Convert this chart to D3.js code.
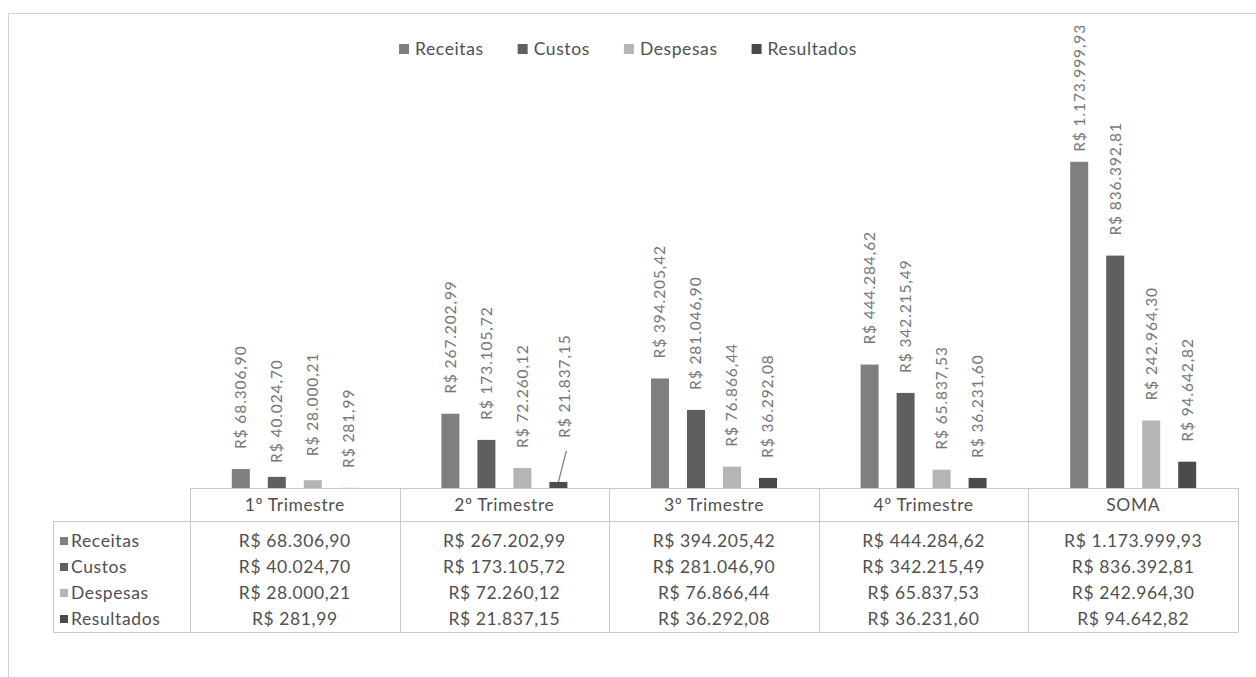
<!DOCTYPE html>
<html>
<head>
<meta charset="utf-8">
<script src="https://cdn.jsdelivr.net/npm/d3@7"></script>
<style>
  body { margin: 0; background: #fff; }
  svg { display: block; }
  text { font-family: Lato, "Open Sans", sans-serif; }
</style>
</head>
<body>
<svg width="1256" height="677"></svg>
<script>
const categories = ["1º Trimestre", "2º Trimestre", "3º Trimestre", "4º Trimestre", "SOMA"];
const seriesNames = ["Receitas", "Custos", "Despesas", "Resultados"];
const receitas = [68306.90, 267202.99, 394205.42, 444284.62, 1173999.93];
const custos = [40024.70, 173105.72, 281046.90, 342215.49, 836392.81];
const despesas = [28000.21, 72260.12, 76866.44, 65837.53, 242964.30];
const resultados = [281.99, 21837.15, 36292.08, 36231.60, 94642.82];
const values = [receitas, custos, despesas, resultados];

const colors = ["#7f7f7f", "#5f5f5f", "#b5b5b5", "#4b4b4b"];
const gridColor = "#c9c9c9";
const textColor = "#505050";
const labelColor = "#777777";

// labels moved by hand in the original (extra lift in px; dx > 0 means a leader line)
const labelLift = {
  "1º Trimestre|Custos": -6,
  "1º Trimestre|Despesas": 4,
  "2º Trimestre|Resultados": 24,
  "SOMA|Receitas": -10
};
const leaderLines = { "2º Trimestre|Resultados": 6 };

const br = d3.formatLocale({ decimal: ",", thousands: ".", grouping: [3], currency: ["R$ ", ""] });
const money = br.format("$,.2f");

const svg = d3.select("svg");

svg.append("rect")
  .attr("x", 8.5).attr("y", 13.5)
  .attr("width", 1300).attr("height", 700)
  .attr("fill", "none").attr("stroke", "#d2d2d2");

const x = d3.scaleBand().domain(categories).range([190, 1238]);
const xs = d3.scaleBand().domain(seriesNames).range([-72, 72]).paddingInner(0.5).paddingOuter(0.25);
const y = d3.scaleLinear().domain([0, 1400000]).range([488, 99]);

const barCenter = (c, s) => x(c) + x.bandwidth() / 2 + xs(s) + xs.bandwidth() / 2;

// bars and rotated data labels
seriesNames.forEach((s, si) => {
  const g = svg.append("g");
  g.selectAll("rect")
    .data(categories)
    .join("rect")
    .attr("x", c => x(c) + x.bandwidth() / 2 + xs(s))
    .attr("y", (c, i) => y(values[si][i]))
    .attr("width", xs.bandwidth())
    .attr("height", (c, i) => y(0) - y(values[si][i]))
    .attr("fill", colors[si]);

  g.selectAll("text")
    .data(categories)
    .join("text")
    .attr("transform", (c, i) => {
      const key = c + "|" + s;
      const cx = barCenter(c, s) + (leaderLines[key] || 0);
      const cy = y(values[si][i]) - 20 - (labelLift[key] || 0);
      return `translate(${cx},${cy}) rotate(-90)`;
    })
    .attr("dy", "0.35em")
    .attr("font-size", 15.5)
    .attr("letter-spacing", 0.9)
    .attr("fill", labelColor)
    .text((c, i) => money(values[si][i]));

  categories.forEach((c, i) => {
    const key = c + "|" + s;
    if (!leaderLines[key]) return;
    const bx = barCenter(c, s);
    const by = y(values[si][i]);
    svg.append("line")
      .attr("x1", bx).attr("y1", by)
      .attr("x2", bx + leaderLines[key] + 2).attr("y2", by - 20 - labelLift[key] + 13)
      .attr("stroke", "#7a7a7a").attr("stroke-width", 1.2);
  });
});

// legend
const legend = svg.append("g");
let lx = 0;
seriesNames.forEach((s, si) => {
  const item = legend.append("g").attr("transform", `translate(${lx},0)`);
  item.append("rect").attr("x", 0).attr("y", -5).attr("width", 10).attr("height", 10).attr("fill", colors[si]);
  const t = item.append("text").attr("x", 16).attr("y", 0).attr("dy", "0.35em")
    .attr("font-size", 17.5).attr("letter-spacing", 0.6).attr("fill", textColor).text(s);
  lx += 16 + t.node().getComputedTextLength() + 34;
});
legend.attr("transform", `translate(${628 - (lx - 34) / 2},49)`);

// data table
const rows = d3.scaleBand().domain(seriesNames).range([528, 632]);
const table = svg.append("g").attr("stroke", gridColor).attr("stroke-width", 1).attr("fill", "none");
const crisp = v => Math.round(v) + 0.5;

table.append("line").attr("x1", 190).attr("x2", 1238).attr("y1", crisp(488)).attr("y2", crisp(488));
table.append("line").attr("x1", 53).attr("x2", 1238).attr("y1", crisp(521)).attr("y2", crisp(521));
table.append("line").attr("x1", 53).attr("x2", 1238).attr("y1", crisp(632)).attr("y2", crisp(632));
table.append("line").attr("x1", crisp(53)).attr("x2", crisp(53)).attr("y1", 521).attr("y2", 632);
table.selectAll("line.v")
  .data(categories.map(c => x(c)).concat([x.range()[1]]))
  .join("line")
  .attr("class", "v")
  .attr("x1", d => crisp(d)).attr("x2", d => crisp(d))
  .attr("y1", 488).attr("y2", 632);

svg.append("g").selectAll("text")
  .data(categories)
  .join("text")
  .attr("x", c => x(c) + x.bandwidth() / 2)
  .attr("y", 505)
  .attr("dy", "0.35em")
  .attr("text-anchor", "middle")
  .attr("font-size", 17.5)
  .attr("letter-spacing", 0.6)
  .attr("fill", textColor)
  .text(c => c);

seriesNames.forEach((s, si) => {
  const ry = rows(s) + rows.bandwidth() / 2;
  svg.append("rect").attr("x", 60).attr("y", ry - 4).attr("width", 8).attr("height", 8).attr("fill", colors[si]);
  svg.append("text").attr("x", 71).attr("y", ry).attr("dy", "0.35em")
    .attr("font-size", 17.5).attr("letter-spacing", 0.6).attr("fill", textColor).text(s);
  svg.append("g").selectAll("text")
    .data(categories)
    .join("text")
    .attr("x", c => x(c) + x.bandwidth() / 2)
    .attr("y", ry)
    .attr("dy", "0.35em")
    .attr("text-anchor", "middle")
    .attr("font-size", 17.5)
    .attr("letter-spacing", 0.6)
    .attr("fill", textColor)
    .text((c, i) => money(values[si][i]));
});
</script>
</body>
</html>
